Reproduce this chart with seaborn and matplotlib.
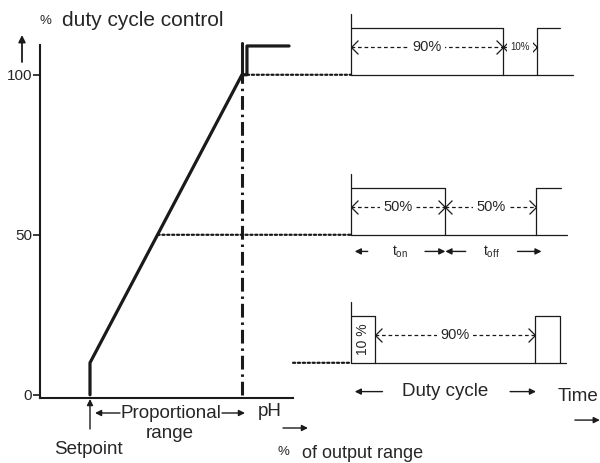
import numpy as np
import pandas as pd
import seaborn as sns
import matplotlib.pyplot as plt
from matplotlib.patches import ConnectionPatch
from matplotlib.path import Path

# control characteristic: x = position in proportional range (%), setpoint at 0
curve_x = [0, 0, 100, 103.3, 103.3, 131]
curve_y = [0, 10, 100, 100, 109, 109]
band_end = 100
y_ticks = [0, 50, 100]

# duty cycle examples, time units (period ~10)
levels = [100, 50, 10]
on_times = [8.2, 5.1, 1.3]
periods = [10.05, 10.0, 9.95]
pulse2_end = [11.3, 11.35, 11.3]
trace_end = [12.0, 11.7, 11.6]
pulse2_closed = [False, False, True]
on_labels = ['90%', '50%', '10 %']
off_labels = ['10%', '50%', '90%']

sns.set_theme(style='white')
plt.rcParams['font.family'] = ['Liberation Sans', 'DejaVu Sans']

W, H = 600, 463
def fpos(x, y):
    return x / W, 1 - y / H

fig = plt.figure(figsize=(6, 4.63), dpi=100)
ax = fig.add_axes([40 / W, 65 / H, 253 / W, 353 / H])
ax.set_xlim(-32.9, 133.6)
ax.set_ylim(-1.0, 109.3)
for s in ['top', 'right']:
    ax.spines[s].set_visible(False)
for s in ['left', 'bottom']:
    ax.spines[s].set_color('k')
    ax.spines[s].set_linewidth(1.5)
ax.set_xticks([])
ax.set_yticks(y_ticks)
ax.set_yticklabels([str(v) for v in y_ticks])
ax.tick_params(axis='y', left=True, length=5, width=1.2, pad=0.5, labelsize=11, color='k')
ax.set_xlabel('')
ax.set_ylabel('')

sns.lineplot(x=curve_x, y=curve_y, sort=False, estimator=None, color='k', lw=2.3, ax=ax)
ax.plot([band_end, band_end], [100, 110], color='k', lw=2.2)
ax.plot([band_end, band_end], [0, 100], color='k', lw=2.2, ls=(0, (4.5, 1.6, 0.8, 1.6)))
for ln in ax.lines:
    ln.set_clip_on(False)

# waveform axes, shares duty scale
axw = fig.add_axes([300 / W, 65 / H, 300 / W, 353 / H], sharey=ax)
axw.set_xlim(-2.76, 13.46)
axw.axis('off')

h, tall = 14.5, 19.0
rows = []
seg = 0
for L, a, p, e2, e, closed in zip(levels, on_times, periods, pulse2_end, trace_end, pulse2_closed):
    parts = [
        [(0, L + tall), (0, L)],
        [(0, L + h), (a, L + h), (a, L)],
        [(0, L), (e, L)],
        [(p, L), (p, L + h), (e2, L + h)] + ([(e2, L)] if closed else []),
    ]
    for part in parts:
        for t, v in part:
            rows.append({'t': t, 'v': v, 'seg': seg})
        seg += 1
wave = pd.DataFrame(rows)
sns.lineplot(data=wave, x='t', y='v', units='seg', estimator=None, sort=False,
             color='k', lw=0.9, ax=axw, legend=False)
for ln in axw.lines:
    ln.set_clip_on(False)
axw.set_xlabel('')
axw.set_ylabel('')

# dotted connectors
starts = [(103.3, 100), (44.4, 50), (133.6, 10)]
for (x0, y0), L in zip(starts, levels):
    con = ConnectionPatch(xyA=(x0, y0), coordsA=ax.transData, xyB=(0, L), coordsB=axw.transData,
                          color='k', lw=1.6, ls=(0, (1, 1.2)))
    fig.add_artist(con)

left_chev = Path([(1, 1), (0, 0), (1, -1)], [Path.MOVETO, Path.LINETO, Path.LINETO])
right_chev = Path([(-1, 1), (0, 0), (-1, -1)], [Path.MOVETO, Path.LINETO, Path.LINETO])

def span(t0, t1, y, label, fs=10.5):
    axw.plot([t0, t1], [y, y], color='k', lw=0.9, ls=(0, (3, 2.2)), clip_on=False)
    axw.plot([t0], [y], marker=left_chev, ms=10, mfc='none', mec='k', mew=0.9, clip_on=False)
    axw.plot([t1], [y], marker=right_chev, ms=10, mfc='none', mec='k', mew=0.9, clip_on=False)
    if label:
        axw.text((t0 + t1) / 2, y, label, ha='center', va='center', fontsize=fs,
                 bbox=dict(fc='white', ec='none', pad=2.5))

def arrow(a, x0, y0, x1, y1, coords='data', lw=1.0, ms=9):
    a.annotate('', xy=(x1, y1), xytext=(x0, y0), xycoords=coords, textcoords=coords,
               arrowprops=dict(arrowstyle='-|>', color='k', lw=lw, mutation_scale=ms,
                               shrinkA=0, shrinkB=0), annotation_clip=False)

up = 8.6
span(0, on_times[0], levels[0] + up, on_labels[0])
span(on_times[0], periods[0], levels[0] + up, off_labels[0], fs=7)
span(0, on_times[1], levels[1] + up, on_labels[1])
span(on_times[1], periods[1], levels[1] + up, off_labels[1])
span(on_times[2], periods[2], levels[2] + up, off_labels[2])
axw.text(on_times[2] / 2, levels[2] + 7.5, on_labels[2], rotation=90, ha='center', va='center', fontsize=10)

# t_on / t_off
yt = levels[1] - 5.2
arrow(axw, 0.9, yt, 0.2, yt)
axw.text(2.65, yt, r'$\mathregular{t_{on}}$', ha='center', va='center', fontsize=10)
arrow(axw, 4.0, yt, on_times[1], yt)
arrow(axw, 6.2, yt, on_times[1], yt)
axw.text(7.6, yt, r'$\mathregular{t_{off}}$', ha='center', va='center', fontsize=10)
arrow(axw, 9.0, yt, 10.3, yt)

# duty cycle / time
yd = levels[2] - 9.0
arrow(axw, 1.7, yd, 0.2, yd)
axw.text(5.1, yd, 'Duty cycle', ha='center', va='center', fontsize=13.5)
arrow(axw, 8.6, yd, 10.0, yd)
axw.text(12.25, levels[2] - 10.6, 'Time', ha='center', va='center', fontsize=13.5)
arrow(axw, 12.1, levels[2] - 17.9, 13.45, levels[2] - 17.9)

# main chart labels
fig.text(*fpos(40, 21), '%', fontsize=9.5, va='center')
fig.text(*fpos(62, 21), 'duty cycle control', fontsize=15, va='center')
arrow(ax, *fpos(22, 62), *fpos(22, 35), coords='figure fraction', lw=1.3, ms=10)
arrow(ax, *fpos(90, 429), *fpos(90, 399), coords='figure fraction', lw=1.0, ms=9)
arrow(ax, *fpos(120, 413), *fpos(95, 413), coords='figure fraction', lw=1.0, ms=9)
fig.text(*fpos(171, 413), 'Proportional', fontsize=13.5, ha='center', va='center')
arrow(ax, *fpos(222, 413), *fpos(245, 413), coords='figure fraction', lw=1.0, ms=9)
fig.text(*fpos(170, 434), 'range', fontsize=13.5, ha='center', va='center')
fig.text(*fpos(88, 449), 'Setpoint', fontsize=13.5, ha='center', va='center')
fig.text(*fpos(258, 412), 'pH', fontsize=13.5, ha='left', va='center')
arrow(ax, *fpos(283, 428), *fpos(308, 428), coords='figure fraction', lw=1.0, ms=9)
fig.text(*fpos(278, 452), '%', fontsize=9.5, ha='left', va='center')
fig.text(*fpos(302, 453), 'of output range', fontsize=13, ha='left', va='center')

fig.savefig('out.png', dpi=100)
